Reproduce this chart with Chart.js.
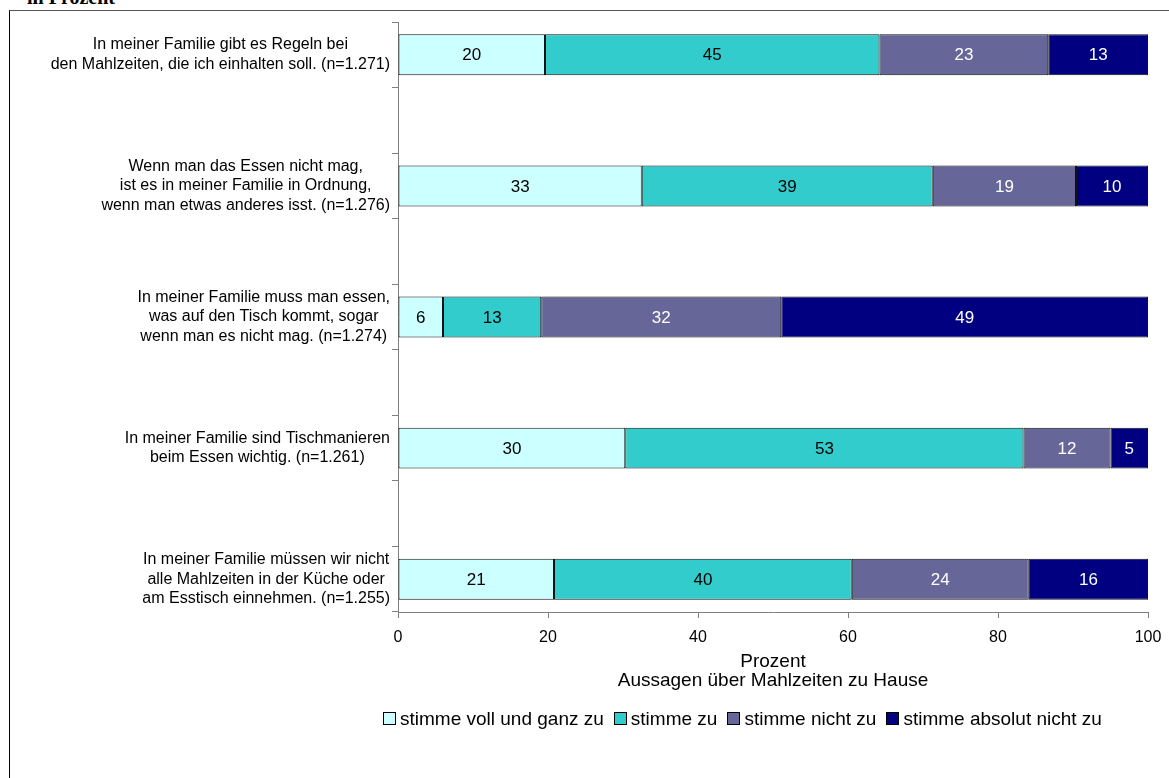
<!DOCTYPE html>
<html lang="de">
<head>
<meta charset="utf-8">
<title>Aussagen über Mahlzeiten zu Hause</title>
<script src="https://cdn.jsdelivr.net/npm/chart.js@4.4.1/dist/chart.umd.min.js"></script>
<style>
    html, body { margin: 0; padding: 0; background: #fff; }
    body { width: 1169px; height: 778px; position: relative; overflow: hidden;
           font-family: "Liberation Sans", Arial, sans-serif; }
    #frame { position: absolute; left: 9px; top: 10px; width: 1200px; height: 800px;
             border-left: 1px solid #000; border-top: 1px solid #555; }
    #unit { position: absolute; left: 27px; top: -13px; font: bold 20px/20px "Liberation Serif", serif; }
    #wrap { position: absolute; left: 0; top: 0; width: 1169px; height: 778px; }
    #legend { position: absolute; left: 383px; top: 708px; font-size: 19px; line-height: 22px;
              white-space: nowrap; color: #000; }
    #legend span.box { display: inline-block; width: 11px; height: 11px; border: 1px solid #000;
                       margin-right: 4px; vertical-align: 0px; }
    #legend span.item { margin-right: 10px; }
</style>
</head>
<body>
<div id="unit">in Prozent</div>
<div id="frame"></div>
<div id="wrap"><canvas id="chart"></canvas></div>
<div id="legend"></div>
<script>
'use strict';

const statements = [
    ['In meiner Familie gibt es Regeln bei', 'den Mahlzeiten, die ich einhalten soll. (n=1.271)'],
    ['Wenn man das Essen nicht mag,', 'ist es in meiner Familie in Ordnung,', 'wenn man etwas anderes isst. (n=1.276)'],
    ['In meiner Familie muss man essen,', 'was auf den Tisch kommt, sogar', 'wenn man es nicht mag. (n=1.274)'],
    ['In meiner Familie sind Tischmanieren', 'beim Essen wichtig. (n=1.261)'],
    ['In meiner Familie müssen wir nicht', 'alle Mahlzeiten in der Küche oder', 'am Esstisch einnehmen. (n=1.255)']
];
const answers = ['stimme voll und ganz zu', 'stimme zu', 'stimme nicht zu', 'stimme absolut nicht zu'];

const vollUndGanz  = [19.6, 32.5, 6.0, 30.3, 20.8];
const stimmeZu     = [44.6, 38.8, 13.1, 53.1, 39.7];
const stimmeNicht  = [22.5, 19.1, 32.0, 11.6, 23.6];
const absolutNicht = [13.3, 9.6, 48.9, 5.0, 15.9];

const xTicks = [0, 20, 40, 60, 80, 100];

const colors = ['#CCFFFF', '#33CCCC', '#666699', '#000080'];
const labelColors = ['#000', '#000', '#fff', '#fff'];
const family = '"Liberation Sans", Arial, sans-serif';

// Excel leaves an empty slot between the rows, so put a gap after each one
function spread(arr, gap) {
    return arr.flatMap((v, i) => i < arr.length - 1 ? [v, gap] : [v]);
}

const rowLabels = {
    id: 'rowLabels',
    afterDraw(chart) {
        const ctx = chart.ctx;
        const y = chart.scales.y;
        ctx.save();
        ctx.font = '16px ' + family;
        ctx.fillStyle = '#000';
        ctx.textAlign = 'center';
        ctx.textBaseline = 'middle';
        y.getLabels().forEach((lines, i) => {
            if (!lines.length) return;
            const widest = Math.max(...lines.map(l => ctx.measureText(l).width));
            const cx = y.right - 8 - widest / 2;
            const cy = y.getPixelForValue(i);
            lines.forEach((l, k) => {
                ctx.fillText(l, cx, cy + (k - (lines.length - 1) / 2) * 19.5);
            });
        });
        ctx.restore();
    }
};

const valueLabels = {
    id: 'valueLabels',
    afterDatasetsDraw(chart) {
        const ctx = chart.ctx;
        ctx.save();
        ctx.font = '17px ' + family;
        ctx.textAlign = 'center';
        ctx.textBaseline = 'middle';
        chart.data.datasets.forEach((ds, d) => {
            chart.getDatasetMeta(d).data.forEach((bar, i) => {
                const v = ds.data[i];
                if (v == null) return;
                ctx.fillStyle = labelColors[d];
                ctx.fillText(Math.round(v), (bar.x + bar.base) / 2, bar.y + 1);
            });
        });
        ctx.restore();
    }
};

const series = [vollUndGanz, stimmeZu, stimmeNicht, absolutNicht];

const chart = new Chart(document.getElementById('chart').getContext('2d'), {
    type: 'bar',
    data: {
        labels: spread(statements, []),
        datasets: series.map((s, d) => ({
            label: answers[d],
            data: spread(s, null),
            backgroundColor: colors[d],
            borderColor: '#111',
            borderWidth: 1,
            borderSkipped: false,
            categoryPercentage: 1,
            barPercentage: 0.625
        }))
    },
    options: {
        indexAxis: 'y',
        responsive: true,
        maintainAspectRatio: false,
        animation: false,
        layout: { padding: { left: 10, right: 21, top: 22, bottom: 87.5 } },
        scales: {
            x: {
                stacked: true,
                min: 0,
                max: 100,
                afterBuildTicks(scale) { scale.ticks = xTicks.map(v => ({ value: v })); },
                grid: { drawOnChartArea: false, drawTicks: true, tickLength: 6, color: '#808080' },
                border: { color: '#808080' },
                ticks: { color: '#000', font: { size: 16, family: family }, padding: 10, maxRotation: 0 },
                title: {
                    display: true,
                    text: ['Prozent', 'Aussagen über Mahlzeiten zu Hause'],
                    color: '#000',
                    font: { size: 19, family: family, lineHeight: 1.0 },
                    padding: 0
                },
                afterFit(scale) {
                    scale.height = 78.5;
                    scale.paddingLeft = 0;
                    scale.paddingRight = 0;
                }
            },
            y: {
                stacked: true,
                grid: { offset: true, drawOnChartArea: false, drawTicks: true, tickLength: 6, color: '#808080' },
                border: { color: '#808080' },
                ticks: { display: false },
                afterFit(scale) {
                    scale.width = 388;
                    scale.paddingTop = 0;
                    scale.paddingBottom = 0;
                }
            }
        },
        plugins: {
            legend: { display: false },
            tooltip: { enabled: false }
        }
    },
    plugins: [valueLabels, rowLabels]
});

// Legend
const legend = document.getElementById('legend');
answers.forEach((a, d) => {
    const item = document.createElement('span');
    item.className = 'item';
    item.innerHTML = `<span class="box" style="background:${colors[d]}"></span>${a}`;
    legend.appendChild(item);
});
</script>
</body>
</html>
